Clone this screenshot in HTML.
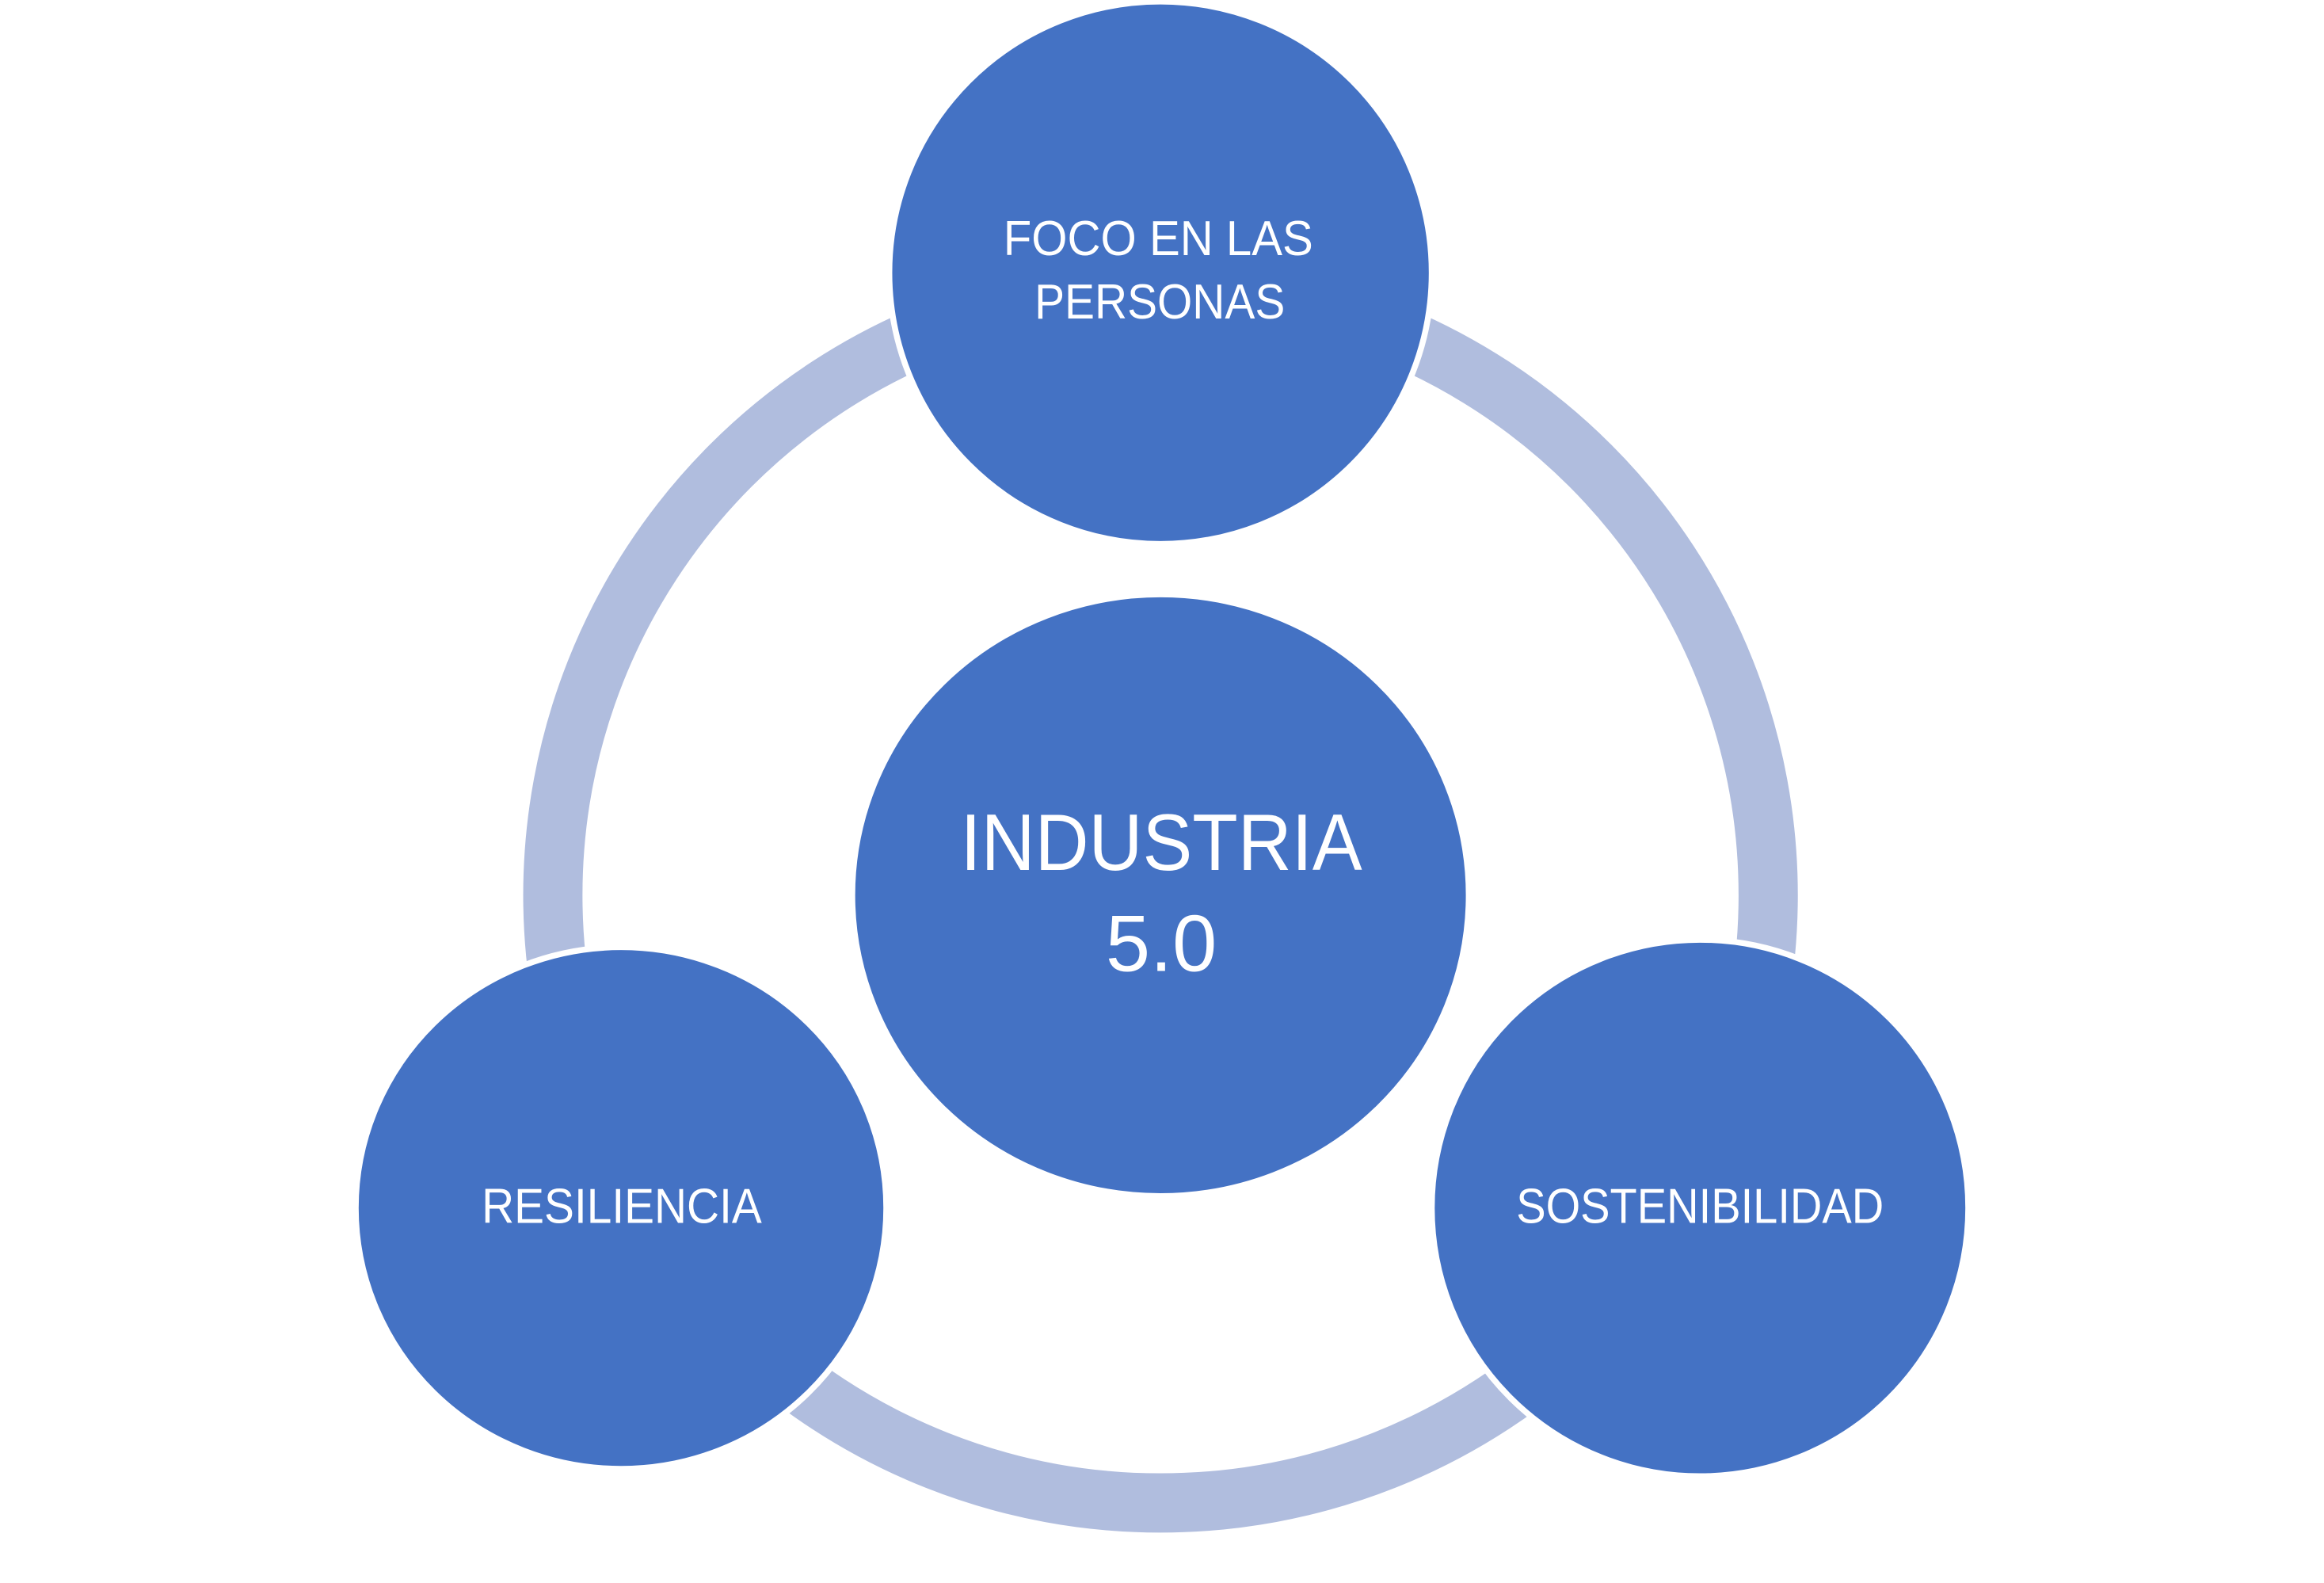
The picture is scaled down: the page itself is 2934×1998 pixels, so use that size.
<!DOCTYPE html>
<html><head><meta charset="utf-8"><style>html,body{margin:0;padding:0;background:#fff}svg{display:block}</style></head>
<body>
<svg width="2934" height="1998" viewBox="0 0 1568 1068" preserveAspectRatio="none" xmlns="http://www.w3.org/2000/svg">
<rect width="1568" height="1068" fill="#fff"/>
<circle cx="783" cy="604" r="410" fill="none" stroke="#B0BDDE" stroke-width="40"/>
<g fill="#4472C4" stroke="#fff" stroke-width="4">
<ellipse cx="783" cy="184" rx="183" ry="183"/>
<ellipse cx="783" cy="604" rx="208" ry="203"/>
<ellipse cx="419" cy="815" rx="179" ry="176"/>
<ellipse cx="1147" cy="815" rx="181" ry="181"/>
</g>
<g fill="#fff" font-family="Liberation Sans, sans-serif" text-anchor="start">
<text x="677" y="172" font-size="33" textLength="209" lengthAdjust="spacingAndGlyphs">FOCO EN LAS</text>
<text x="698" y="215" font-size="33" textLength="169" lengthAdjust="spacingAndGlyphs">PERSONAS</text>
<text x="648" y="587" font-size="54" textLength="271" lengthAdjust="spacingAndGlyphs">INDUSTRIA</text>
<text x="746" y="655" font-size="54" textLength="75" lengthAdjust="spacingAndGlyphs">5.0</text>
<text x="325" y="825" font-size="33" textLength="189" lengthAdjust="spacingAndGlyphs">RESILIENCIA</text>
<text x="1023" y="825" font-size="33" textLength="248" lengthAdjust="spacingAndGlyphs">SOSTENIBILIDAD</text>
</g>
</svg>
</body></html>
